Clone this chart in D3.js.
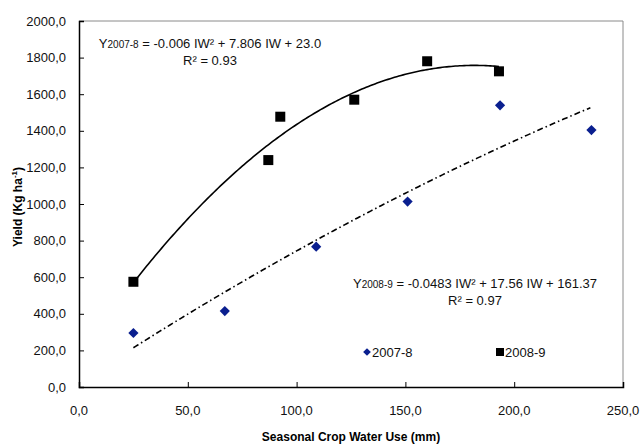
<!DOCTYPE html>
<html><head><meta charset="utf-8">
<script src="https://cdn.jsdelivr.net/npm/d3@7"></script>
<style>body{margin:0;background:#fff}svg{display:block;font-family:"Liberation Sans",Arial,sans-serif}</style>
</head><body><svg id="c" width="643" height="446"></svg>
<script>
// Data
const water0708 = [25, 67, 109, 151, 193.5, 235.5];
const yield0708 = [295, 415, 767, 1013, 1539, 1404];
const water0809 = [25, 87, 92.5, 126.5, 160, 193];
const yield0809 = [575, 1240, 1477, 1570, 1780, 1725];
// Trend-line coefficients as printed on the chart [a, b, c] : a*IW^2 + b*IW + c
const coef0708 = [-0.006, 7.806, 23.0];   // dash-dot line
const coef0809 = [-0.0483, 17.56, 161.37]; // solid line
const range0708 = [25, 235];
const range0809 = [25, 193];
const xTicks = [0, 50, 100, 150, 200, 250];
const yTicks = [0, 200, 400, 600, 800, 1000, 1200, 1400, 1600, 1800, 2000];

const svg = d3.select("#c");
const x = d3.scaleLinear().domain([0, 250]).range([79, 623]);
const y = d3.scaleLinear().domain([0, 2000]).range([387, 21]);
const fmt = v => d3.format(".1f")(v).replace(".", ",");

// plot border (top/right gray)
svg.append("path").attr("d", `M${x(0)},${y(2000)}H${x(250)}V${y(0)}`)
  .attr("fill", "none").attr("stroke", "#8a8a8a").attr("stroke-width", 1);

// axes
const gy = svg.append("g").attr("transform", `translate(${x(0)},0)`)
  .call(d3.axisRight(y).tickValues(yTicks).tickSize(5).tickFormat(""));
const gx = svg.append("g").attr("transform", `translate(0,${y(0)})`)
  .call(d3.axisTop(x).tickValues(xTicks).tickSize(5).tickFormat(""));
[gy, gx].forEach(g => { g.selectAll("path").attr("stroke", "#000").attr("stroke-width", 1.5); g.selectAll("line").attr("stroke", "#000"); });
gx.selectAll(".tick").filter(d => d === 0 || d === 250).select("line").attr("y2", -3);

svg.append("g").selectAll("text").data(yTicks).join("text")
  .attr("x", 66).attr("y", d => y(d)).attr("dy", "0.35em")
  .attr("text-anchor", "end").attr("font-size", 13).attr("fill", "#111").text(fmt);
svg.append("g").selectAll("text").data(xTicks).join("text")
  .attr("x", d => x(d)).attr("y", 415)
  .attr("text-anchor", "middle").attr("font-size", 13).attr("fill", "#111").text(fmt);

// axis titles
svg.append("text").attr("x", 351).attr("y", 441).attr("text-anchor", "middle")
  .attr("font-size", 12).attr("font-weight", "bold").text("Seasonal Crop Water Use (mm)");
const yt = svg.append("text").attr("transform", "translate(22,207) rotate(-90)")
  .attr("text-anchor", "middle").attr("font-size", 12).attr("font-weight", "bold");
yt.append("tspan").text("Yield (Kg ha");
yt.append("tspan").attr("font-size", 8).attr("dy", -5).text("-1");
yt.append("tspan").attr("dy", 5).text(")");

// trend lines
const poly = c => v => c[0] * v * v + c[1] * v + c[2];
const line = d3.line().x(d => x(d[0])).y(d => y(d[1]));
function trend(c, r) {
  const f = poly(c);
  return d3.range(r[0], r[1] + 0.001, 1).map(v => [v, f(v)]);
}
svg.append("path").attr("d", line(trend(coef0809, range0809)))
  .attr("fill", "none").attr("stroke", "#000").attr("stroke-width", 1.6);
svg.append("path").attr("d", line(trend(coef0708, range0708)))
  .attr("fill", "none").attr("stroke", "#000").attr("stroke-width", 1.6)
  .attr("stroke-dasharray", "6,3,1.5,3");

// markers
const blue = "#0a1f8f";
const diamond = d3.symbol().type(d3.symbolDiamond2 || d3.symbolSquare2).size(50);
svg.append("g").selectAll("path").data(water0708.map((w, i) => [w, yield0708[i]])).join("path")
  .attr("transform", d => `translate(${x(d[0])},${y(d[1])}) rotate(45)`)
  .attr("d", d3.symbol().type(d3.symbolSquare).size(52)).attr("fill", blue);
svg.append("g").selectAll("rect").data(water0809.map((w, i) => [w, yield0809[i]])).join("rect")
  .attr("x", d => x(d[0]) - 5).attr("y", d => y(d[1]) - 5)
  .attr("width", 10).attr("height", 10).attr("fill", "#000");

// equations
function eq(cx, cyv, sub, rest, r2) {
  const t = svg.append("text").attr("x", cx).attr("y", cyv).attr("text-anchor", "middle")
    .attr("font-size", 13).attr("fill", "#111");
  t.append("tspan").text("Y");
  t.append("tspan").attr("font-size", 10).text(sub);
  t.append("tspan").text(rest);
  svg.append("text").attr("x", cx).attr("y", cyv + 17).attr("text-anchor", "middle")
    .attr("font-size", 13).attr("fill", "#111").text(r2);
}
eq(210, 48, "2007-8", " = -0.006 IW² + 7.806 IW + 23.0", "R² = 0.93");
eq(475, 288, "2008-9", " = -0.0483 IW² + 17.56 IW + 161.37", "R² = 0.97");

// legend
svg.append("path").attr("transform", "translate(367,352) rotate(45)")
  .attr("d", d3.symbol().type(d3.symbolSquare).size(30)).attr("fill", blue);
svg.append("text").attr("x", 372).attr("y", 357).attr("font-size", 13).attr("fill", "#111").text("2007-8");
svg.append("rect").attr("x", 496).attr("y", 348).attr("width", 8).attr("height", 8).attr("fill", "#000");
svg.append("text").attr("x", 505).attr("y", 357).attr("font-size", 13).attr("fill", "#111").text("2008-9");
</script></body></html>
